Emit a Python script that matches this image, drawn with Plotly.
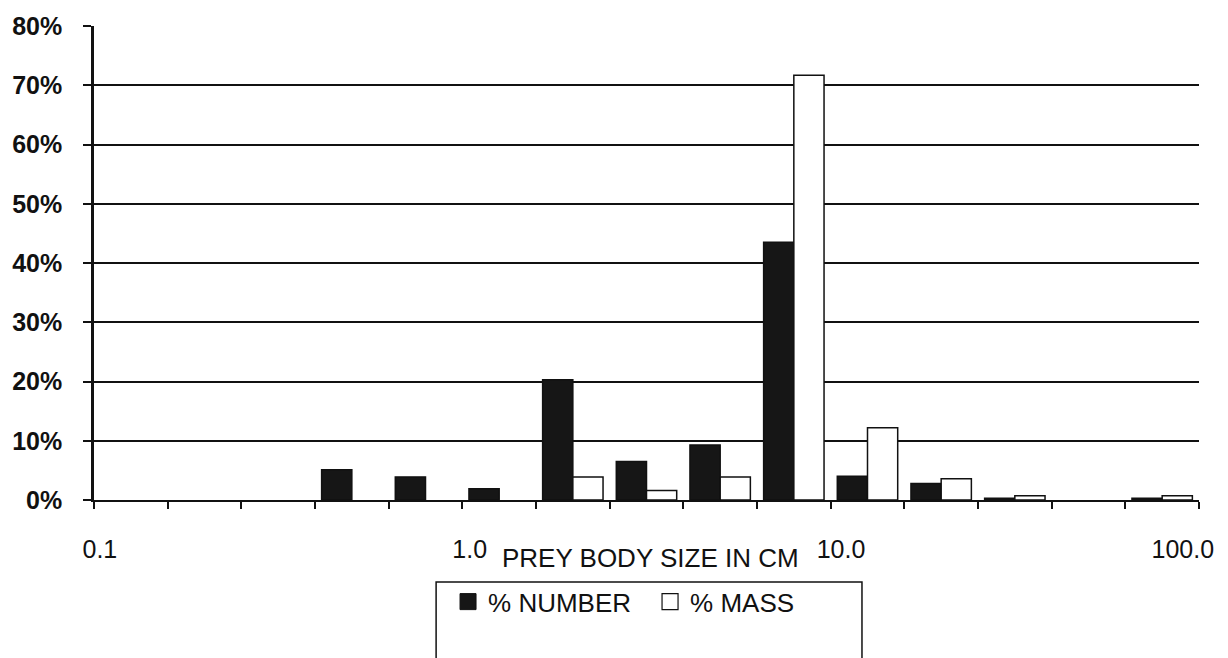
import plotly.graph_objects as go

# 15 log-spaced prey size classes (5 per decade, 0.1 cm to 100 cm)
size_classes = [
    "0.10-0.16", "0.16-0.25", "0.25-0.40", "0.40-0.63", "0.63-1.0",
    "1.0-1.6", "1.6-2.5", "2.5-4.0", "4.0-6.3", "6.3-10",
    "10-16", "16-25", "25-40", "40-63", "63-100",
]
pct_number = [0.0, 0.0, 0.0, 5.1, 3.9, 1.9, 20.3, 6.5, 9.3, 43.5, 4.0, 2.8, 0.3, 0.0, 0.3]
pct_mass = [0.0, 0.0, 0.0, 0.0, 0.0, 0.0, 3.9, 1.6, 3.9, 71.7, 12.2, 3.6, 0.7, 0.0, 0.7]

decade_labels = ["0.1", "1.0", "10.0", "100.0"]
decade_label_pos = [0.08, 5.1, 10.14, 14.78]

x_pos = [i + 0.5 for i in range(len(size_classes))]
boundaries = list(range(len(size_classes) + 1))

FONT = "Liberation Sans, Arial, Helvetica, sans-serif"
INK = "#111111"

fig = go.Figure()
fig.add_trace(go.Bar(
    x=x_pos, y=pct_number, name="% NUMBER", showlegend=False,
    marker=dict(color="#161616",
                line=dict(color=INK, width=[1.5 if v > 0 else 0 for v in pct_number])),
    customdata=size_classes,
))
fig.add_trace(go.Bar(
    x=x_pos, y=pct_mass, name="% MASS", showlegend=False,
    marker=dict(color="white",
                line=dict(color=INK, width=[1.5 if v > 0 else 0 for v in pct_mass])),
    customdata=size_classes,
))
# legend entries (bigger square swatches, as in the original key)
fig.add_trace(go.Scatter(
    x=[None], y=[None], mode="markers", name="% NUMBER",
    marker=dict(symbol="square", size=16, color="#161616", line=dict(color=INK, width=1)),
))
fig.add_trace(go.Scatter(
    x=[None], y=[None], mode="markers", name="% MASS",
    marker=dict(symbol="square", size=16, color="white", line=dict(color=INK, width=1.2)),
))

fig.update_layout(
    width=1228, height=658,
    margin=dict(l=88, r=29, t=20, b=158),
    paper_bgcolor="white", plot_bgcolor="white",
    barmode="group", bargap=0.18, bargroupgap=0.0,
    font=dict(family=FONT, size=25, color=INK),
    showlegend=True,
    legend=dict(
        orientation="h", x=0.3204, y=-0.2146, xanchor="left", yanchor="middle",
        font=dict(size=26, family=FONT, color=INK),
        bgcolor="rgba(0,0,0,0)", borderwidth=0,
        entrywidth=157, entrywidthmode="pixels",
    ),
    xaxis=dict(
        range=[0, len(size_classes)],
        tickmode="array", tickvals=decade_label_pos, ticktext=decade_labels,
        ticks="", showgrid=False, zeroline=False,
        showline=True, linecolor=INK, linewidth=2,
        tickfont=dict(size=25, family=FONT, color=INK),
        ticklabelstandoff=26,
        minor=dict(tickmode="array", tickvals=boundaries, ticks="outside",
                   ticklen=7, tickwidth=2, tickcolor=INK, showgrid=False),
    ),
    xaxis2=dict(
        overlaying="x", anchor="y", side="bottom",
        range=[0, len(size_classes)],
        tickmode="array", tickvals=boundaries, ticks="inside",
        ticklen=6, tickwidth=2, tickcolor=INK,
        showticklabels=False, showline=False, showgrid=False, zeroline=False,
    ),
    yaxis=dict(
        range=[0, 80], tickmode="linear", tick0=0, dtick=10, ticksuffix="%",
        showgrid=True, gridcolor=INK, gridwidth=1.5,
        zeroline=False, showline=True, linecolor=INK, linewidth=2.5,
        ticks="outside", ticklen=8, tickwidth=2, tickcolor=INK,
        tickfont=dict(size=25, family=FONT, color=INK, weight="bold"),
        ticklabelstandoff=16,
    ),
    annotations=[dict(
        text="PREY BODY SIZE IN CM", xref="paper", yref="paper",
        x=0.504, y=-0.123, xanchor="center", yanchor="middle",
        showarrow=False, font=dict(size=26, family=FONT, color=INK),
    )],
    shapes=[dict(
        type="rect", xref="paper", yref="paper",
        x0=0.3096, x1=0.695, y0=-0.40, y1=-0.173,
        line=dict(color=INK, width=1.5), fillcolor="rgba(0,0,0,0)",
        layer="below",
    )],
)

fig.write_html("out.html", config={"displayModeBar": False},
               post_script="document.body.style.margin='0';")
